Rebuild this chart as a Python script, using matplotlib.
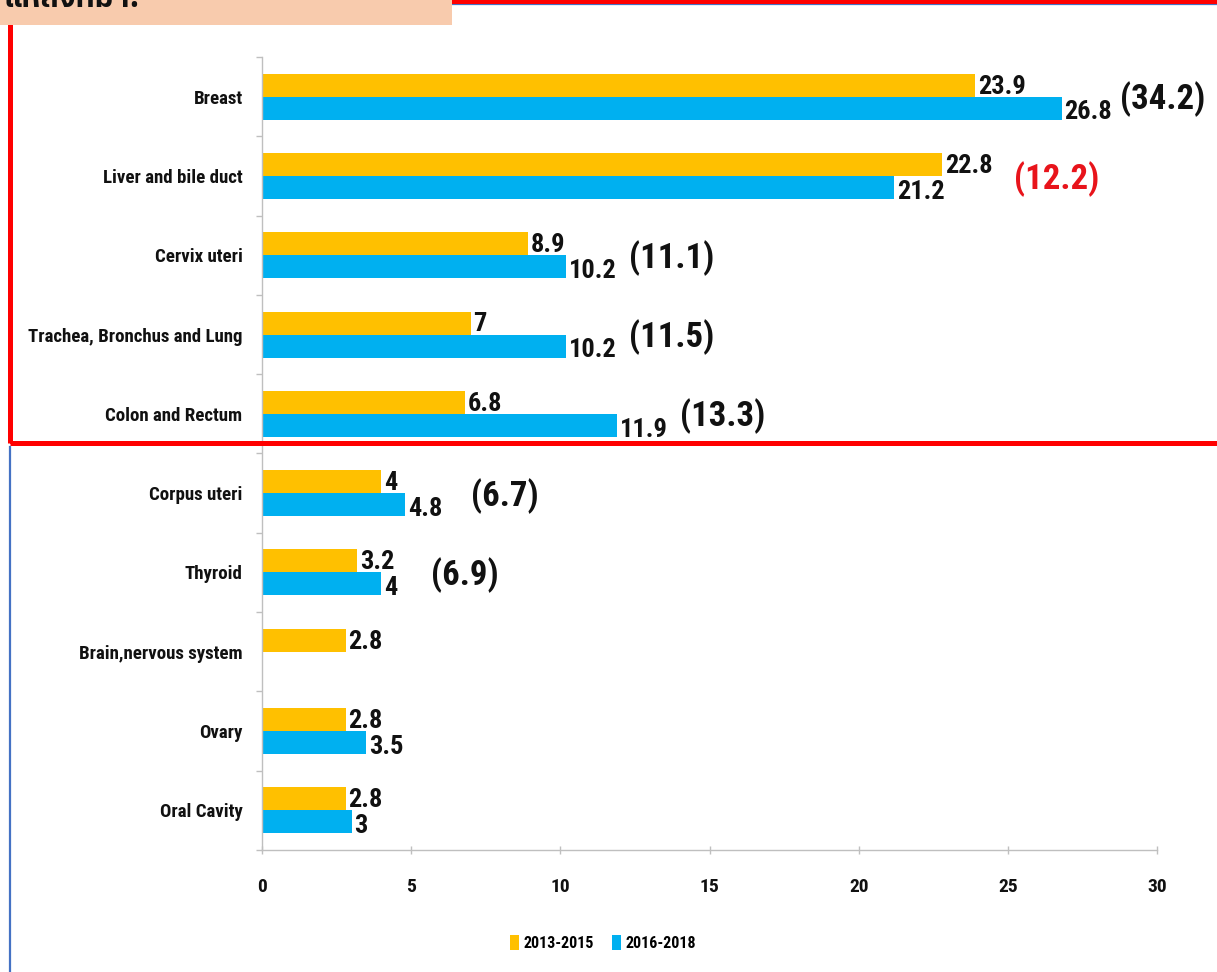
import matplotlib
matplotlib.use('Agg')
import matplotlib.pyplot as plt
from matplotlib import font_manager
from matplotlib.patches import Rectangle, Patch
from matplotlib.lines import Line2D

# ---------------- data ----------------
categories = ['Breast', 'Liver and bile duct', 'Cervix uteri',
              'Trachea, Bronchus and Lung', 'Colon and Rectum', 'Corpus uteri',
              'Thyroid', 'Brain,nervous system', 'Ovary', 'Oral Cavity']
v2013 = [23.9, 22.8, 8.9, 7, 6.8, 4, 3.2, 2.8, 2.8, 2.8]
v2016 = [26.8, 21.2, 10.2, 10.2, 11.9, 4.8, 4, None, 3.5, 3]
paren_labels = ['(34.2)', '(12.2)', '(11.1)', '(11.5)', '(13.3)', '(6.7)', '(6.9)', '', '', '']
paren_colors = ['#111111', '#E8141B', '#111111', '#111111', '#111111', '#111111',
                '#111111', '#111111', '#111111', '#111111']
series_labels = ['2013-2015', '2016-2018']
x_ticks = [0, 5, 10, 15, 20, 25, 30]
header_text = 'แหล่งที่มา:'

# layout (positions of the bracketed labels, data units)
paren_x = [28.75, 25.2, 12.3, 12.3, 14.0, 7.0, 5.65, None, None, None]

YELLOW = '#FFC000'
BLUE = '#00B0F0'
GREY = '#BFBFBF'

W, H = 1217, 972

# ---------------- fonts ----------------
names = {f.name for f in font_manager.fontManager.ttflist}
cond = None
for cand in ['Roboto Condensed', 'Liberation Sans Narrow', 'Open Sans Condensed',
             'Noto Sans Condensed', 'DejaVu Sans Condensed']:
    if cand in names:
        cond = cand
        break
if cond is not None:
    FAM = [cond, 'DejaVu Sans']
    STRETCH = 'normal'
    s = 1.0
else:
    FAM = ['DejaVu Sans']
    STRETCH = 'condensed'
    s = 0.78

thai_font = None
try:
    from matplotlib.ft2font import FT2Font
    cands = sorted(font_manager.fontManager.ttflist,
                   key=lambda f: (0 if 'thai' in f.name.lower() else 1))
    for f in cands:
        try:
            ft = FT2Font(f.fname)
            if ft.get_char_index(ord('แ')):
                thai_font = f.name
                break
        except Exception:
            pass
except Exception:
    pass

plt.rcParams['font.family'] = FAM

fig = plt.figure(figsize=(W / 100, H / 100), dpi=100)
fig.patch.set_facecolor('white')


def fx(px):
    return px / W


def fy(py):
    return 1 - py / H


ax = fig.add_axes([fx(262), fy(850), fx(1157) - fx(262), fy(57) - fy(850)])

n = len(categories)
ys = list(range(n))
bh = 0.29
y1 = [y - bh / 2 for y in ys]
y2 = [y + bh / 2 for y in ys]
v2016_plot = [v if v is not None else 0 for v in v2016]

ax.barh(y1, v2013, height=bh, color=YELLOW, zorder=2)
ax.barh(y2, v2016_plot, height=bh, color=BLUE, zorder=2)

num_fs = 19 * s
par_fs = 25 * s

for i in range(n):
    ax.annotate(f'{v2013[i]:g}', (v2013[i], y1[i]), xytext=(2, -1),
                textcoords='offset points', ha='left', va='center',
                fontsize=num_fs, fontweight='bold', color='#111111',
                fontstretch=STRETCH)
    if v2016[i] is not None:
        ax.annotate(f'{v2016[i]:g}', (v2016[i], y2[i]), xytext=(2, -3),
                    textcoords='offset points', ha='left', va='center',
                    fontsize=num_fs, fontweight='bold', color='#111111',
                    fontstretch=STRETCH)
    if paren_labels[i]:
        ax.annotate(paren_labels[i], (paren_x[i], ys[i]), xytext=(0, -2),
                    textcoords='offset points', ha='left', va='center',
                    fontsize=par_fs, fontweight='bold', color=paren_colors[i],
                    fontstretch=STRETCH)

ax.set_xlim(0, 30)
ax.set_ylim(n - 0.5, -0.5)
ax.set_yticks(ys)
ax.set_yticklabels(categories, fontsize=13.6 * s, fontweight='bold',
                   fontstretch=STRETCH, color='#111111')
ax.set_yticks([y - 0.5 for y in range(n + 1)], minor=True)
ax.tick_params(axis='y', which='major', length=0, pad=14)
ax.tick_params(axis='y', which='minor', length=4, color=GREY, width=1)
ax.set_xticks(x_ticks)
ax.set_xticklabels([str(t) for t in x_ticks], fontsize=14 * s,
                   fontweight='bold', fontstretch=STRETCH, color='#111111')
ax.tick_params(axis='x', which='major', direction='inout', length=6,
               color=GREY, width=1, pad=17)
for sp in ['top', 'right']:
    ax.spines[sp].set_visible(False)
for sp in ['left', 'bottom']:
    ax.spines[sp].set_color(GREY)
    ax.spines[sp].set_linewidth(1)

# legend
handles = [Patch(facecolor=YELLOW, edgecolor='none'),
           Patch(facecolor=BLUE, edgecolor='none')]
fig.legend(handles, series_labels, loc='center', bbox_to_anchor=(fx(603), fy(943)),
           ncol=2, frameon=False, handlelength=0.55, handleheight=1.1,
           handletextpad=0.3, columnspacing=1.1,
           prop={'size': 11.5 * s, 'weight': 'bold', 'family': FAM,
                 'stretch': STRETCH})

# decorative frame lines
fig.add_artist(Line2D([fx(9.5), fx(9.5)], [fy(447), fy(975)], color='#4472C4',
                      lw=1.6, transform=fig.transFigure, zorder=4))
fig.add_artist(Line2D([fx(452), fx(1220)], [fy(4.5), fy(4.5)], color='#4472C4',
                      lw=1.6, transform=fig.transFigure, zorder=4))
fig.add_artist(Rectangle((fx(10), fy(443)), fx(1219.5) - fx(10), fy(1) - fy(443),
                         transform=fig.transFigure, fill=False, edgecolor='#FF0000',
                         lw=3.6, zorder=5, clip_on=False))
fig.add_artist(Rectangle((0, fy(25)), fx(452), 25 / H, transform=fig.transFigure,
                         facecolor='#F8CBAD', edgecolor='none', zorder=6))
fig.text(fx(3), fy(7), header_text, ha='left', va='baseline', fontsize=22,
         fontweight='bold', color='#111111', zorder=7,
         family=[thai_font] if thai_font else FAM)

fig.savefig('out.png', dpi=100, facecolor='white')
